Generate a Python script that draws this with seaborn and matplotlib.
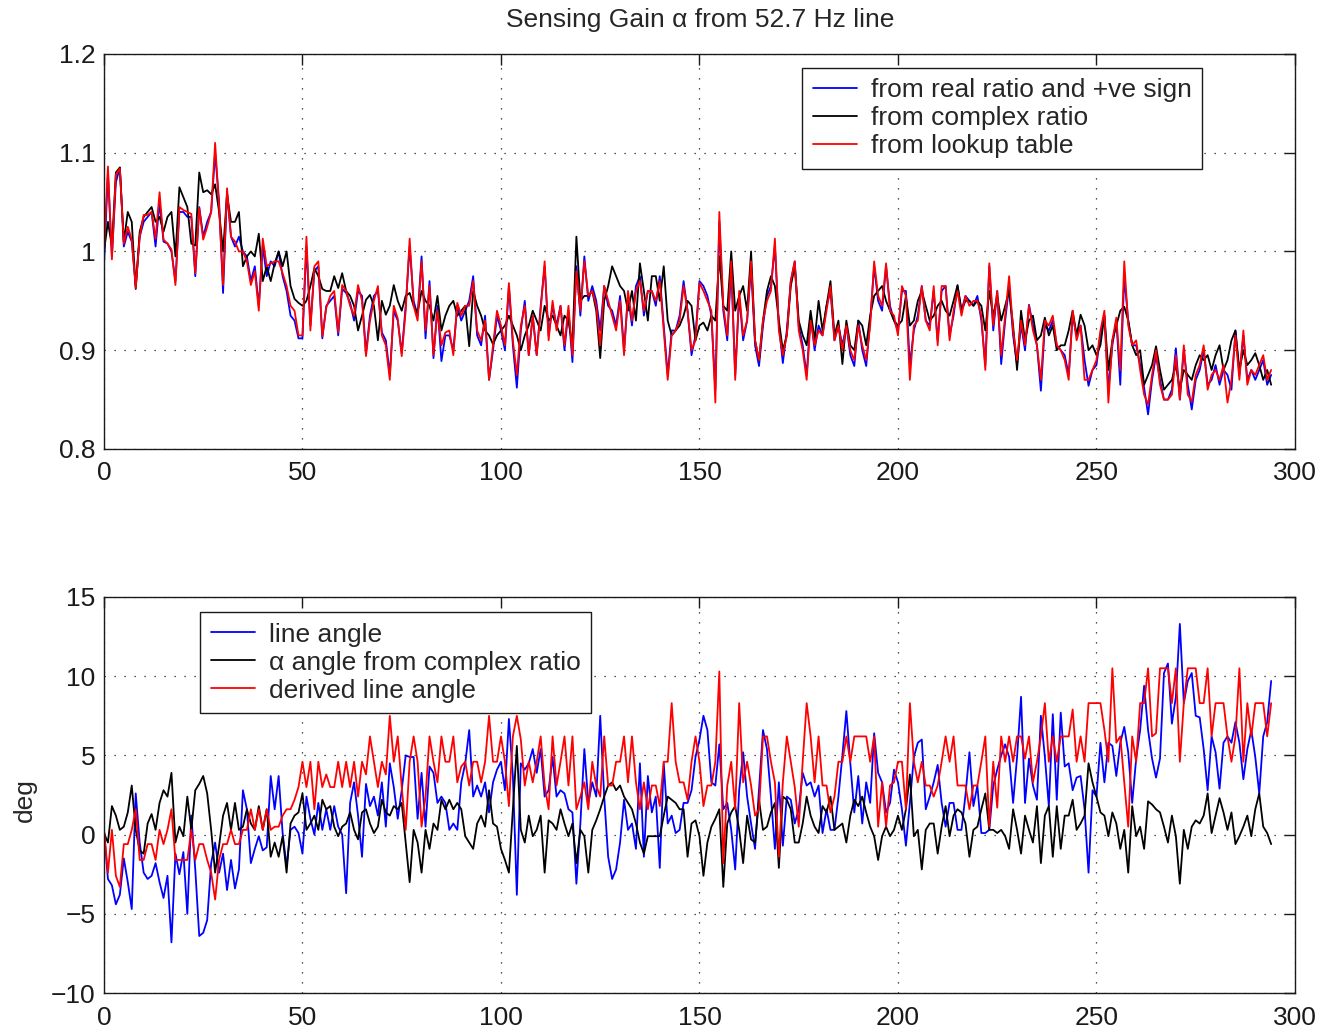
import numpy as np
import pandas as pd
import matplotlib
matplotlib.use("Agg")
import matplotlib.pyplot as plt
import seaborn as sns

# Sensing gain alpha (0..294)
gain_real = [
    0.985, 1.080, 0.995, 1.070, 1.085, 1.005, 1.020, 1.010, 0.965, 1.015,
    1.030, 1.035, 1.040, 1.005, 1.050, 1.010, 1.008, 1.000, 0.970, 1.040,
    1.040, 1.035, 1.035, 0.975, 1.045, 1.015, 1.030, 1.040, 1.100, 1.050,
    0.958, 1.060, 1.015, 1.005, 1.015, 1.000, 0.995, 0.970, 0.985, 0.945,
    1.005, 0.975, 0.990, 0.985, 1.000, 0.975, 0.960, 0.935, 0.930, 0.912,
    0.912, 1.005, 0.925, 0.980, 0.985, 0.912, 0.945, 0.950, 0.955, 0.915,
    0.962, 0.958, 0.948, 0.930, 0.960, 0.955, 0.897, 0.935, 0.955, 0.960,
    0.918, 0.910, 0.875, 0.940, 0.930, 0.897, 0.945, 1.005, 0.950, 0.935,
    0.995, 0.912, 0.970, 0.892, 0.945, 0.889, 0.915, 0.915, 0.900, 0.945,
    0.930, 0.940, 0.950, 0.975, 0.915, 0.905, 0.935, 0.870, 0.900, 0.935,
    0.920, 0.900, 0.965, 0.905, 0.862, 0.920, 0.950, 0.895, 0.935, 0.895,
    0.945, 0.985, 0.915, 0.945, 0.925, 0.945, 0.900, 0.940, 0.888, 0.985,
    0.935, 0.995, 0.950, 0.965, 0.950, 0.920, 0.965, 0.945, 0.940, 0.925,
    0.955, 0.900, 0.955, 0.925, 0.965, 0.975, 0.935, 0.960, 0.960, 0.945,
    0.975, 0.925, 0.875, 0.920, 0.920, 0.935, 0.970, 0.940, 0.895, 0.915,
    0.970, 0.965, 0.955, 0.935, 0.860, 1.030, 0.940, 0.910, 0.985, 0.875,
    0.955, 0.910, 0.930, 0.985, 0.905, 0.884, 0.925, 0.955, 0.965, 1.005,
    0.925, 0.887, 0.920, 0.970, 0.990, 0.925, 0.905, 0.875, 0.935, 0.900,
    0.925, 0.915, 0.945, 0.960, 0.910, 0.925, 0.905, 0.925, 0.895, 0.884,
    0.930, 0.900, 0.884, 0.930, 0.985, 0.950, 0.940, 0.985, 0.945, 0.930,
    0.920, 0.960, 0.960, 0.885, 0.920, 0.935, 0.965, 0.930, 0.925, 0.960,
    0.910, 0.960, 0.965, 0.915, 0.935, 0.965, 0.940, 0.955, 0.950, 0.945,
    0.955, 0.930, 0.885, 0.985, 0.920, 0.960, 0.886, 0.930, 0.965, 0.915,
    0.885, 0.926, 0.900, 0.946, 0.925, 0.905, 0.859, 0.925, 0.920, 0.930,
    0.905, 0.900, 0.895, 0.875, 0.935, 0.915, 0.925, 0.890, 0.864, 0.880,
    0.885, 0.915, 0.935, 0.860, 0.905, 0.930, 0.865, 0.975, 0.930, 0.905,
    0.905, 0.885, 0.862, 0.835, 0.870, 0.895, 0.870, 0.850, 0.850, 0.860,
    0.902, 0.850, 0.900, 0.865, 0.840, 0.870, 0.880, 0.900, 0.865, 0.870,
    0.885, 0.865, 0.880, 0.875, 0.860, 0.920, 0.875, 0.915, 0.870, 0.880,
    0.870, 0.880, 0.890, 0.865, 0.875,
]

gain_complex = [
    1.000, 1.030, 1.005, 1.080, 1.085, 1.010, 1.040, 1.030, 0.962, 1.020,
    1.035, 1.040, 1.045, 1.030, 1.035, 1.020, 1.035, 1.040, 0.995, 1.065,
    1.055, 1.045, 1.008, 1.006, 1.080, 1.060, 1.062, 1.058, 1.068, 1.040,
    1.000, 1.058, 1.030, 1.030, 1.040, 0.985, 0.995, 1.000, 0.995, 1.018,
    0.970, 0.985, 0.970, 0.988, 1.000, 0.985, 1.000, 0.965, 0.952, 0.948,
    0.945, 0.950, 0.965, 0.983, 0.975, 0.962, 0.960, 0.960, 0.975, 0.963,
    0.978, 0.960, 0.955, 0.945, 0.920, 0.935, 0.951, 0.956, 0.945, 0.910,
    0.950, 0.936, 0.945, 0.966, 0.950, 0.940, 0.955, 0.958, 0.945, 0.938,
    0.960, 0.950, 0.945, 0.930, 0.955, 0.920, 0.935, 0.945, 0.950, 0.935,
    0.940, 0.945, 0.904, 0.960, 0.945, 0.935, 0.920, 0.915, 0.906, 0.915,
    0.920, 0.925, 0.935, 0.925, 0.915, 0.900, 0.915, 0.925, 0.940, 0.930,
    0.920, 0.945, 0.930, 0.935, 0.925, 0.915, 0.935, 0.930, 0.905, 1.015,
    0.950, 0.955, 0.955, 0.960, 0.940, 0.892, 0.950, 0.965, 0.985, 0.975,
    0.965, 0.960, 0.940, 0.960, 0.930, 0.988, 0.960, 0.930, 0.975, 0.975,
    0.950, 0.985, 0.930, 0.915, 0.920, 0.925, 0.935, 0.950, 0.945, 0.910,
    0.925, 0.928, 0.920, 0.935, 0.930, 0.995, 0.945, 0.940, 1.000, 0.940,
    0.955, 0.965, 0.940, 1.000, 0.910, 0.890, 0.930, 0.960, 0.975, 0.965,
    0.930, 0.900, 0.915, 0.965, 0.985, 0.930, 0.915, 0.905, 0.940, 0.910,
    0.950, 0.920, 0.945, 0.970, 0.915, 0.930, 0.886, 0.930, 0.905, 0.900,
    0.930, 0.925, 0.905, 0.935, 0.955, 0.960, 0.965, 0.950, 0.940, 0.930,
    0.925, 0.930, 0.955, 0.925, 0.930, 0.950, 0.960, 0.945, 0.930, 0.935,
    0.945, 0.950, 0.940, 0.935, 0.950, 0.966, 0.940, 0.950, 0.950, 0.945,
    0.950, 0.945, 0.920, 0.960, 0.935, 0.955, 0.930, 0.945, 0.960, 0.925,
    0.880, 0.940, 0.910, 0.930, 0.935, 0.910, 0.915, 0.933, 0.915, 0.925,
    0.900, 0.905, 0.905, 0.920, 0.940, 0.915, 0.936, 0.925, 0.900, 0.905,
    0.895, 0.905, 0.935, 0.880, 0.910, 0.925, 0.940, 0.944, 0.930, 0.905,
    0.895, 0.900, 0.865, 0.875, 0.885, 0.904, 0.880, 0.860, 0.865, 0.870,
    0.885, 0.860, 0.880, 0.875, 0.870, 0.885, 0.895, 0.890, 0.895, 0.880,
    0.895, 0.905, 0.880, 0.890, 0.910, 0.920, 0.880, 0.900, 0.885, 0.890,
    0.897, 0.885, 0.870, 0.880, 0.865,
]

gain_lookup = [
    1.000, 1.086, 0.992, 1.078, 1.084, 1.008, 1.025, 1.012, 0.963, 1.015,
    1.037, 1.037, 1.040, 1.013, 1.060, 1.012, 1.008, 1.002, 0.966, 1.045,
    1.042, 1.040, 1.038, 0.978, 1.044, 1.012, 1.025, 1.040, 1.110, 1.045,
    0.966, 1.064, 1.015, 1.010, 1.000, 1.000, 0.990, 0.966, 0.980, 0.940,
    1.013, 0.985, 0.988, 0.990, 0.990, 0.978, 0.965, 0.945, 0.940, 0.915,
    0.915, 1.015, 0.920, 0.985, 0.990, 0.914, 0.943, 0.955, 0.960, 0.918,
    0.966, 0.960, 0.945, 0.935, 0.966, 0.950, 0.894, 0.930, 0.950, 0.965,
    0.915, 0.905, 0.870, 0.945, 0.932, 0.894, 0.940, 1.013, 0.945, 0.930,
    0.990, 0.920, 0.965, 0.895, 0.940, 0.905, 0.918, 0.920, 0.895, 0.948,
    0.935, 0.945, 0.945, 0.970, 0.920, 0.910, 0.930, 0.870, 0.905, 0.940,
    0.925, 0.905, 0.968, 0.910, 0.875, 0.925, 0.945, 0.895, 0.935, 0.895,
    0.940, 0.990, 0.910, 0.950, 0.920, 0.945, 0.905, 0.945, 0.895, 0.980,
    0.940, 0.990, 0.955, 0.960, 0.945, 0.905, 0.965, 0.950, 0.935, 0.920,
    0.950, 0.895, 0.960, 0.930, 0.960, 0.970, 0.940, 0.960, 0.960, 0.950,
    0.970, 0.920, 0.870, 0.915, 0.920, 0.930, 0.965, 0.940, 0.900, 0.910,
    0.968, 0.960, 0.950, 0.940, 0.847, 1.040, 0.945, 0.915, 0.990, 0.870,
    0.960, 0.915, 0.930, 0.990, 0.910, 0.890, 0.930, 0.950, 0.960, 1.013,
    0.920, 0.895, 0.915, 0.970, 0.990, 0.920, 0.900, 0.870, 0.930, 0.905,
    0.920, 0.915, 0.940, 0.965, 0.910, 0.925, 0.900, 0.925, 0.900, 0.890,
    0.925, 0.905, 0.890, 0.925, 0.990, 0.955, 0.945, 0.988, 0.940, 0.935,
    0.915, 0.965, 0.955, 0.870, 0.925, 0.930, 0.965, 0.930, 0.920, 0.965,
    0.905, 0.965, 0.965, 0.910, 0.940, 0.960, 0.935, 0.955, 0.945, 0.950,
    0.950, 0.935, 0.880, 0.988, 0.925, 0.960, 0.895, 0.935, 0.975, 0.920,
    0.890, 0.930, 0.905, 0.945, 0.920, 0.905, 0.870, 0.930, 0.925, 0.935,
    0.905, 0.900, 0.890, 0.870, 0.940, 0.910, 0.925, 0.870, 0.870, 0.880,
    0.890, 0.920, 0.940, 0.847, 0.910, 0.933, 0.880, 0.990, 0.925, 0.905,
    0.910, 0.880, 0.855, 0.845, 0.875, 0.900, 0.865, 0.850, 0.850, 0.855,
    0.895, 0.850, 0.905, 0.855, 0.848, 0.875, 0.885, 0.905, 0.860, 0.875,
    0.880, 0.870, 0.885, 0.847, 0.870, 0.915, 0.870, 0.920, 0.865, 0.880,
    0.875, 0.885, 0.895, 0.870, 0.880,
]

# Angles in degrees
line_angle = [
    0.3, -2.8, -3.2, -4.4, -3.8, -1.5, -3.0, -4.7, 2.6, -0.5,
    -2.4, -2.8, -2.6, -1.8, -3.0, -4.0, -2.6, -6.8, -1.2, -2.5,
    -1.1, -5.0, 1.2, -2.2, -6.4, -6.2, -5.4, -1.8, -0.5, -2.4,
    -1.2, -3.5, -1.6, -3.4, -2.2, 2.8, 1.6, -1.8, -0.9, -0.1,
    -1.0, -0.8, 3.7, 1.6, 3.7, 0.1, -2.0, 0.3, 0.5, 0.1,
    -1.2, 2.4, 1.0, 0.0, 2.0, 0.3, 1.6, 0.3, 1.8, 0.5,
    0.0, -3.7, 2.0, 3.3, 1.2, -1.4, 3.2, 1.8, 2.4, 1.2,
    3.3, 0.5, 4.5, 3.0, 1.0, 2.8, 5.0, 4.9, 4.9, 1.0,
    3.9, 0.5, 4.3, 3.9, 2.0, 2.4, 2.0, 0.3, 0.7, 0.3,
    3.3, 4.5, 6.6, 2.4, 3.1, 2.4, 3.3, 1.4, 3.3, 4.1,
    4.6, 2.8, 7.3, 3.7, -3.8, 4.5, 4.1, 4.5, 5.4, 3.9,
    5.4, 2.4, 2.8, 4.9, 2.4, 2.8, 2.6, 1.6, 1.4, -3.1,
    0.7, 5.4, 2.0, 3.3, 2.4, 7.5, 2.4, -1.4, -2.8, -2.2,
    -0.5, 2.2, 0.3, 0.7, -0.9, 4.5, -1.4, 3.7, 1.4, 2.4,
    -2.1, 4.5, 0.7, 1.2, 0.1, 0.3, 2.0, 2.0, 2.8, 4.9,
    6.0, 7.5, 6.6, 3.3, 3.1, 5.7, 1.6, 2.0, 0.3, -2.2,
    2.8, 5.2, 2.4, 0.7, -0.9, 2.8, 6.6, 5.4, 2.4, -0.9,
    3.3, -0.7, 2.4, 2.2, 0.7, 1.6, 3.9, 3.1, 3.3, 2.4,
    3.1, 0.1, 1.6, 0.3, 0.3, 2.4, 5.0, 7.8, 4.5, 1.4,
    3.7, 0.7, 3.3, 2.0, 6.4, 3.9, 3.3, 1.4, 2.0, 4.1,
    3.3, 1.6, -0.7, 2.0, 4.9, 5.8, 6.0, 1.6, 2.4, 3.3,
    4.4, 2.0, 0.5, 2.0, 2.0, 0.3, 0.3, 2.5, 5.2, 1.8,
    3.1, 0.1, 0.1, 0.3, 3.1, 4.1, 5.0, 5.7, 4.9, 2.0,
    4.9, 8.7, 2.0, 4.8, 3.1, 2.2, 7.5, 4.9, 1.8, 7.6,
    2.2, 7.7, 4.3, 4.5, 2.8, 3.6, 3.7, 1.6, -2.4, 2.8,
    2.4, 5.8, 3.3, 5.8, 5.6, 3.7, 5.8, 6.8, 5.2, 2.0,
    4.8, 6.6, 9.4, 6.6, 4.8, 3.6, 4.8, 10.2, 10.8, 7.0,
    8.7, 13.3, 8.3, 9.7, 10.2, 7.5, 7.4, 5.4, 2.8, 6.2,
    5.2, 2.9, 5.8, 6.2, 5.8, 7.1, 5.8, 3.5, 5.4, 6.6,
    4.9, 2.6, 6.2, 7.1, 9.7,
]

alpha_angle = [
    0.1, -0.5, 1.8, 1.2, 0.3, 0.5, 1.4, 3.1, 0.3, -1.0,
    -1.2, 0.7, 1.3, 0.3, 2.0, 2.8, 2.4, 3.9, -0.5, 0.5,
    -0.1, 2.4, 0.3, 2.8, 3.2, 3.7, 2.6, 0.3, -2.4, -0.7,
    1.2, 2.0, 0.3, 2.0, 0.3, 0.5, 1.6, 0.7, 0.3, 1.8,
    0.3, 1.6, -1.4, -0.5, -1.4, -0.1, -2.4, 0.7, 1.2, 1.4,
    2.6, 0.3, 0.7, 1.2, 0.3, 2.2, 1.6, 1.8, 0.5, -0.1,
    0.5, 0.7, 1.4, 0.3, -0.3, 1.4, 1.6, 0.7, 0.1, 0.5,
    2.2, 1.4, 1.2, 1.8, 1.6, 2.0, -0.5, -3.0, 0.3, -0.5,
    -2.4, 0.3, -0.9, 0.7, 0.3, 2.2, 1.6, 2.2, 1.6, 2.0,
    1.6, -0.1, -0.5, -0.9, 0.7, 1.2, 0.5, 2.8, 0.7, 0.5,
    -0.9, -1.6, -2.4, 1.6, 5.6, 0.3, -0.5, 1.2, -0.1, 0.3,
    1.2, -2.4, 0.9, 0.7, 0.3, 1.6, 0.7, -0.1, 0.7, -1.8,
    0.3, -0.1, -2.4, 0.3, 0.9, 1.6, 2.4, 3.1, 3.3, 2.8,
    3.1, 2.4, 2.0, 1.6, 0.7, -0.5, -1.2, -0.1, -0.1, -0.1,
    -0.1, 1.2, 2.4, 2.2, 2.0, 1.6, 1.6, -1.4, 0.7, 0.9,
    -0.1, -2.6, -0.5, 0.5, 1.0, 1.6, -3.3, 0.7, 1.4, 1.8,
    0.3, -1.8, 1.2, -0.3, -0.5, 2.2, 0.3, 0.5, 1.4, 2.0,
    -2.1, 2.4, 2.2, 1.6, -0.5, -0.5, 0.7, 2.4, 1.2, 0.5,
    0.1, 1.8, 1.4, 2.4, 0.3, 0.5, 0.7, -0.5, 1.2, 2.2,
    1.8, 2.4, 1.4, 0.5, -0.1, -1.6, -0.1, 0.5, -0.1, 0.3,
    1.2, 0.3, 1.6, 3.8, -0.1, 0.3, -2.2, 0.3, 0.7, 0.7,
    -1.2, 0.5, 1.8, -0.1, 1.2, 1.6, 1.4, 0.7, -1.4, 0.3,
    0.5, 1.6, 2.6, 0.3, 0.3, 0.1, 0.3, -0.1, -0.9, 1.6,
    0.3, -1.2, 1.2, 0.3, -0.5, 1.8, -1.8, 1.2, 1.8, -1.4,
    1.8, -0.9, 1.2, 1.2, 2.2, 0.3, 0.7, 1.2, 4.5, 3.3,
    2.4, 1.4, 1.2, -0.1, 1.4, 0.7, -0.9, 0.3, -2.4, 1.8,
    -0.1, 0.5, -0.9, 2.1, 1.9, 1.6, 1.4, 0.5, -0.5, 1.2,
    -0.1, -3.1, 0.3, -0.9, 0.5, 0.9, 0.7, 1.2, 2.6, 0.1,
    1.2, 2.3, 1.4, 0.3, 1.4, -0.6, -0.1, 0.5, 1.2, -0.1,
    1.6, 2.6, 0.5, 0.1, -0.6,
]

derived_angle = [
    0.3, -2.4, 0.3, -2.6, -3.3, -0.6, -0.6, 0.3, 1.6, -1.6,
    -1.6, -0.6, -0.6, -1.6, 0.3, -0.6, 0.3, 1.6, -1.6, -1.6,
    -1.6, -1.6, 0.3, -1.6, -0.6, -0.6, -1.6, -2.4, -4.1, -1.6,
    -0.6, -0.6, 0.3, -0.6, -0.6, 0.3, 0.3, 1.6, 0.3, 1.6,
    0.3, 1.6, 0.3, 0.5, 0.5, 1.2, 1.6, 1.6, 2.2, 3.0,
    4.6, 3.0, 4.6, 1.6, 4.6, 3.0, 3.8, 3.0, 3.0, 4.6,
    3.0, 4.6, 3.0, 4.6, 2.4, 4.6, 3.8, 6.2, 4.6, 3.0,
    4.6, 3.8, 7.5, 4.6, 6.2, 3.0, 0.3, 4.6, 6.2, 4.6,
    0.5, 2.4, 6.2, 4.6, 3.3, 6.2, 4.6, 4.6, 6.2, 3.3,
    4.3, 4.6, 3.1, 4.6, 4.6, 3.3, 4.6, 7.5, 4.6, 4.6,
    6.2, 4.6, 1.8, 6.2, 7.5, 6.0, 3.1, 4.6, 3.3, 4.6,
    6.2, 3.1, 1.6, 6.2, 3.1, 4.6, 6.2, 3.1, 6.2, 1.6,
    2.4, 3.3, 1.6, 4.6, 3.1, 2.4, 6.2, 3.1, 3.1, 4.6,
    4.6, 6.2, 3.3, 6.2, 3.3, 1.6, 3.3, 1.6, 3.1, 3.1,
    1.8, 4.6, 4.6, 8.3, 4.6, 3.3, 3.3, 2.2, 4.6, 6.2,
    4.6, 1.8, 3.1, 3.1, 4.6, 10.3, -1.8, 3.1, 4.6, 1.6,
    8.3, 3.3, 4.6, 3.1, 1.2, 1.6, 6.2, 6.2, 4.6, 3.3,
    -1.4, 3.3, 6.2, 4.6, 3.0, 0.5, 4.6, 8.3, 6.2, 3.3,
    6.2, 3.1, 3.1, 1.4, 2.4, 4.6, 4.6, 6.2, 4.6, 6.2,
    6.2, 6.2, 6.2, 4.6, 6.2, 0.5, 3.3, 0.5, 3.1, 3.3,
    4.6, 4.6, 1.6, 8.3, 4.6, 3.3, 4.6, 3.1, 3.1, 2.4,
    3.1, 4.6, 6.2, 4.6, 6.2, 3.1, 3.1, 3.1, 1.6, 3.1,
    3.1, 4.6, 6.2, 0.5, 4.6, 1.7, 6.2, 4.6, 6.2, 4.6,
    6.2, 6.2, 4.8, 6.2, 3.3, 4.6, 6.2, 8.3, 4.6, 6.2,
    4.6, 6.2, 6.2, 6.2, 7.9, 4.6, 6.2, 4.6, 8.3, 8.3,
    8.3, 8.3, 6.6, 4.6, 10.5, 5.8, 6.2, 3.3, 0.5, 6.2,
    4.6, 8.3, 8.3, 10.5, 6.2, 6.4, 10.5, 10.5, 10.5, 8.3,
    10.5, 4.6, 8.3, 10.5, 10.5, 10.5, 8.3, 8.3, 10.5, 6.2,
    8.3, 8.3, 8.3, 6.2, 4.6, 6.2, 10.5, 4.6, 8.3, 6.2,
    8.3, 8.3, 8.3, 6.2, 8.3,
]

top_labels = ["from real ratio and +ve sign", "from complex ratio", "from lookup table"]
bottom_labels = ["line angle", "\u03b1 angle from complex ratio", "derived line angle"]
colors = ["#0000ff", "#000000", "#ff0000"]

series = [gain_real, gain_complex, gain_lookup, line_angle, alpha_angle, derived_angle]
for s in series:
    assert len(s) == 295, len(s)
sample = np.arange(295)

sns.set_theme(style="white")
plt.rcParams['font.family'] = ['Liberation Sans', 'DejaVu Sans']
FS = 19

fig = plt.figure(figsize=(13.21, 10.30), dpi=100)
ax1 = fig.add_axes([0.0787, 0.5641, 0.9016, 0.3835])
ax2 = fig.add_axes([0.0787, 0.0359, 0.9016, 0.3845])

def draw(ax, data, labels):
    for vals, lab, col in zip(data, labels, colors):
        sns.lineplot(x=sample, y=vals, color=col, label=lab, linewidth=1.3,
                     estimator=None, ax=ax)

draw(ax1, [gain_real, gain_complex, gain_lookup], top_labels)
draw(ax2, [line_angle, alpha_angle, derived_angle], bottom_labels)

ax1.set_xlim(0, 300)
ax1.set_ylim(0.8, 1.2)
ax1.set_yticks([0.8, 0.9, 1.0, 1.1, 1.2])
ax1.set_yticklabels(["0.8", "0.9", "1", "1.1", "1.2"])
ax2.set_xlim(0, 300)
ax2.set_ylim(-10, 15)
ax2.set_yticks([-10, -5, 0, 5, 10, 15])

for ax in (ax1, ax2):
    ax.set_xticks(range(0, 301, 50))
    ax.set_axisbelow(True)
    ax.grid(True, color="k", linestyle=(0, (1, 7)), linewidth=0.9)
    ax.tick_params(direction="in", length=8, width=1, top=True, right=True,
                   labelsize=FS, colors="k")
    ax.tick_params(axis="x", pad=9)
    ax.tick_params(axis="y", pad=6)
    for sp in ax.spines.values():
        sp.set_color("k")
        sp.set_linewidth(1.0)
    ax.set_xlabel("")
    ax.set_ylabel("")

leg_kw = dict(frameon=True, fancybox=False, framealpha=1, edgecolor="k",
              fontsize=FS, handlelength=1.7, labelspacing=0.15, borderaxespad=0,
              borderpad=0.4, handletextpad=0.5)
leg1 = ax1.legend(loc="upper right", bbox_to_anchor=(0.922, 0.965), **leg_kw)
leg2 = ax2.legend(loc="upper left", bbox_to_anchor=(0.0806, 0.962), **leg_kw)
for leg in (leg1, leg2):
    leg.get_frame().set_linewidth(1.0)

fig.text(0.53, 1 - 20 / 1030, "Sensing Gain \u03b1 from 52.7 Hz line",
         ha="center", va="center", fontsize=FS)
fig.text(25 / 1321, 1 - 800 / 1030, "deg", rotation=90, ha="center",
         va="center", fontsize=FS)

fig.savefig("out.png", dpi=100)
